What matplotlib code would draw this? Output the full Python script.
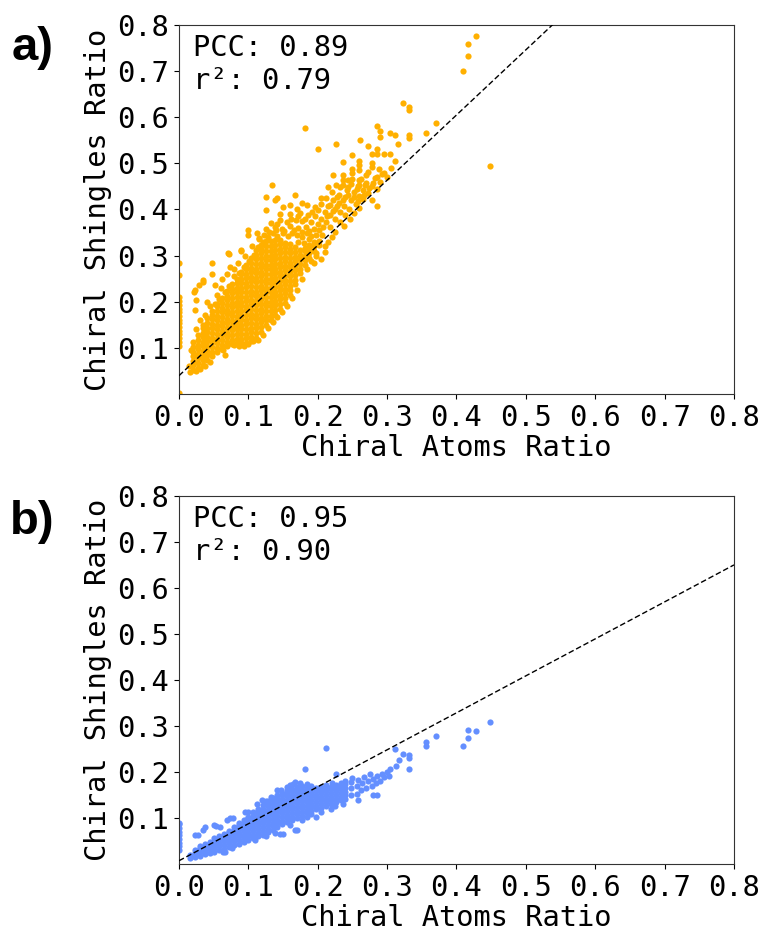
import matplotlib
matplotlib.use("Agg")
import matplotlib.pyplot as plt
import numpy as np

ORANGE = "#FFB000"
BLUE = "#648FFF"

# ---------------- panel a data (values in thousandths) ----------------
a_dense_x = [20, 27, 34, 41, 48, 55, 62, 69, 76, 83, 90, 97, 104, 111, 118,
             125, 132, 139, 146, 153, 160, 167, 174, 181, 188, 195, 202]
a_dense_y = [
    [52, 62, 72, 82, 92, 102, 112],
    [57, 67, 77, 87, 97, 107, 117, 127],
    [63, 73, 83, 93, 103, 113, 123, 133, 143, 150],
    [74, 84, 94, 104, 114, 124, 134, 144, 154, 164],
    [82, 92, 102, 112, 122, 132, 142, 152, 162, 172, 180],
    [90, 100, 110, 120, 130, 140, 150, 160, 170, 180, 190, 195],
    [97, 107, 117, 127, 137, 147, 157, 167, 177, 187, 197, 207],
    [103, 113, 123, 133, 143, 153, 163, 173, 183, 193, 203, 213, 223],
    [108, 118, 128, 138, 148, 158, 168, 178, 188, 198, 208, 218, 228, 238],
    [110, 120, 130, 140, 150, 160, 170, 180, 190, 200, 210, 220, 230, 240, 250],
    [110, 120, 130, 140, 150, 160, 170, 180, 190, 200, 210, 220, 230, 240, 250, 260, 265],
    [111, 121, 131, 141, 151, 161, 171, 181, 191, 201, 211, 221, 231, 241, 251, 261, 271, 280],
    [114, 124, 134, 144, 154, 164, 174, 184, 194, 204, 214, 224, 234, 244, 254, 264, 274, 284, 294],
    [122, 132, 142, 152, 162, 172, 182, 192, 202, 212, 222, 232, 242, 252, 262, 272, 282, 292, 302, 312],
    [135, 145, 155, 165, 175, 185, 195, 205, 215, 225, 235, 245, 255, 265, 275, 285, 295, 305, 315, 324],
    [150, 160, 170, 180, 190, 200, 210, 220, 230, 240, 250, 260, 270, 280, 290, 300, 310, 320, 331],
    [160, 170, 180, 190, 200, 210, 220, 230, 240, 250, 260, 270, 280, 290, 300, 310, 320, 332],
    [172, 182, 192, 202, 212, 222, 232, 242, 252, 262, 272, 282, 292, 302, 312, 322, 333],
    [185, 195, 205, 215, 225, 235, 245, 255, 265, 275, 285, 295, 305, 315, 325, 333],
    [198, 208, 218, 228, 238, 248, 258, 268, 278, 288, 298, 308, 318, 328],
    [215, 225, 235, 245, 255, 265, 275, 285, 295, 305, 315, 325],
    [238, 248, 258, 268, 278, 288, 298, 308, 318],
    [262, 272, 282, 292, 302, 312],
    [280, 290, 300, 310, 316],
    [295, 305, 315, 322],
    [310, 320, 330],
    [322, 332],
]
a_sparse = [
    (428, 777), (416, 759), (416, 732), (409, 700), (449, 494),
    (323, 631), (332, 623), (332, 615), (370, 588), (356, 565), (332, 561), (332, 554),
    (285, 582), (290, 570), (290, 557), (304, 566), (311, 562), (315, 543),
    (182, 576), (226, 541), (200, 532), (261, 550), (272, 537), (285, 532), (285, 521),
    (278, 520), (295, 520), (304, 520), (250, 519), (312, 505), (236, 503),
    (259, 506), (259, 496), (259, 485), (250, 487), (250, 478), (250, 467),
    (236, 474), (236, 463), (236, 452), (278, 500), (278, 491), (273, 481),
    (260, 463), (260, 452), (222, 474), (244, 463), (227, 452), (215, 449),
    (278, 421), (285, 408), (134, 452), (126, 426), (138, 421), (125, 398),
    (100, 356), (89, 312), (72, 303), (47, 283), (47, 260), (22, 221), (29, 236), (35, 243),
    (23, 182), (25, 203), (64, 95), (66, 84), (79, 106), (35, 247), (23, 225),
    (62, 250), (52, 236), (69, 261), (74, 276), (71, 305), (90, 311), (112, 348), (100, 345),
    (40, 200), (55, 215), (60, 230), (80, 270), (85, 285), (95, 300), (105, 320), (115, 335),
    (115, 338), (122, 345), (128, 340), (135, 350), (142, 343), (150, 348), (157, 342),
    (163, 350), (170, 345), (177, 340), (184, 348), (191, 342), (198, 345), (125, 358),
    (138, 362), (148, 358), (160, 365), (172, 360), (183, 362), (194, 358), (202, 355),
    (145, 377), (155, 373), (168, 378), (178, 375), (190, 372), (200, 368), (208, 362),
    (160, 390), (175, 392), (184, 409), (160, 409), (186, 388), (196, 385), (205, 380),
    (212, 372), (218, 362), (141, 424), (167, 431), (146, 390), (150, 405),
    (198, 305), (210, 308), (210, 320), (194, 283), (205, 292), (215, 330), (220, 340), (225, 352),
    (200, 398), (210, 395), (218, 388), (225, 380), (232, 372), (238, 365),
    (205, 412), (215, 408), (225, 402), (232, 395), (240, 388), (246, 380),
    (212, 425), (222, 420), (230, 415), (238, 408), (245, 400), (252, 392),
    (220, 438), (230, 432), (240, 428), (248, 420), (255, 412), (260, 404),
    (232, 448), (242, 442), (252, 438), (260, 430), (265, 422),
    (248, 455), (258, 450), (265, 442), (272, 435), (262, 465), (270, 458),
    (278, 450), (285, 445), (270, 475), (282, 468), (290, 460), (295, 480),
    (300, 470), (305, 490), (288, 488),
    (16, 48), (24, 50), (30, 54), (38, 60), (45, 70), (15, 60), (18, 95), (24, 140),
    (30, 160), (37, 172), (44, 190), (52, 195), (58, 205), (66, 220), (72, 235),
    (80, 255), (86, 262), (94, 275), (101, 288), (108, 302), (114, 318), (121, 330),
    (86, 104), (93, 104), (100, 108), (107, 115), (114, 118), (121, 128), (128, 142),
    (135, 155), (142, 166), (149, 178), (156, 190), (163, 208), (170, 225), (177, 250),
    (184, 270), (191, 288), (198, 300), (172, 330), (180, 328), (188, 335),
    (130, 352), (140, 356), (152, 354), (166, 356), (178, 352), (188, 354), (206, 345),
    (132, 370), (142, 368), (162, 380), (172, 385), (182, 380), (192, 395), (214, 385),
    (222, 396), (228, 408), (236, 420), (244, 432), (252, 428), (258, 418), (266, 432),
    (274, 446), (280, 458), (286, 470), (292, 476), (268, 452), (256, 445), (244, 448),
    (170, 400), (178, 415), (196, 405), (204, 425), (218, 410), (228, 426),
]
a_zero_y = [2, 105, 113, 121, 129, 137, 145, 153, 161, 169, 177, 185, 193, 201, 210, 258, 283]
a_pcc, a_r2 = 0.89, 0.79
a_intercept, a_slope = 0.0396, 1.413

# ---------------- panel b data (values in thousandths) ----------------
b_dense_x = [16, 23, 30, 37, 44, 51, 58, 65, 72, 79, 86, 93, 100, 107, 114, 121,
             128, 135, 142, 149, 156, 163, 170, 177, 184, 191, 198, 205, 212, 219,
             226, 233, 240]
b_dense_y = [
    [14, 20],
    [16, 24, 30],
    [18, 26, 34, 38],
    [21, 29, 37, 44],
    [24, 32, 40, 48],
    [27, 35, 43, 51, 56],
    [30, 38, 46, 54, 61],
    [33, 41, 49, 57, 65],
    [37, 45, 53, 61, 69, 72],
    [41, 49, 57, 65, 73, 80],
    [44, 52, 60, 68, 76, 84, 88],
    [48, 56, 64, 72, 80, 88, 96],
    [52, 60, 68, 76, 84, 92, 100, 103],
    [56, 64, 72, 80, 88, 96, 104, 112],
    [60, 68, 76, 84, 92, 100, 108, 116, 120],
    [64, 72, 80, 88, 96, 104, 112, 120, 128],
    [69, 77, 85, 93, 101, 109, 117, 125, 133, 136],
    [74, 82, 90, 98, 106, 114, 122, 130, 138, 143],
    [80, 88, 96, 104, 112, 120, 128, 136, 144, 150],
    [86, 94, 102, 110, 118, 126, 134, 142, 150, 155],
    [91, 99, 107, 115, 123, 131, 139, 147, 155, 160],
    [95, 103, 111, 119, 127, 135, 143, 151, 159, 164],
    [100, 108, 116, 124, 132, 140, 148, 156, 164, 167],
    [105, 113, 121, 129, 137, 145, 153, 161, 169],
    [110, 118, 126, 134, 142, 150, 158, 166],
    [115, 123, 131, 139, 147, 155, 162],
    [119, 127, 135, 143, 151, 158],
    [122, 130, 138, 146, 154, 160],
    [126, 134, 142, 150, 158, 164],
    [130, 138, 146, 154, 162, 168],
    [134, 142, 150, 158, 166, 172],
    [138, 146, 154, 162, 170, 176],
    [141, 149, 157, 165, 173, 180],
]
b_sparse = [
    (248, 150), (248, 165), (248, 178), (250, 186), (256, 152), (256, 170), (258, 183),
    (262, 160), (264, 175), (266, 190), (270, 165), (272, 180), (275, 195), (278, 170),
    (280, 185), (284, 175), (285, 192), (290, 180), (292, 196), (296, 188), (300, 200),
    (303, 192), (258, 140), (280, 149), (285, 149), (236, 131), (219, 120), (197, 103),
    (185, 103), (167, 74), (145, 66), (150, 66), (170, 74),
    (449, 308), (416, 292), (428, 289), (416, 274), (409, 256), (370, 279), (356, 266),
    (356, 257), (332, 236), (332, 231), (323, 238), (312, 250), (332, 206), (317, 225),
    (313, 212), (304, 207), (212, 252), (182, 206), (227, 196),
    (23, 63), (27, 63), (35, 73), (50, 84), (59, 81), (69, 96), (73, 99), (100, 113),
    (112, 131), (141, 160), (167, 178), (184, 174), (54, 82), (37, 81), (78, 100),
    (95, 114), (126, 137), (165, 174), (64, 27), (76, 34), (66, 27),
    (120, 138), (133, 146), (147, 160), (155, 168), (160, 172), (175, 176), (190, 170),
    (198, 166), (205, 168), (212, 172), (220, 176), (110, 52), (125, 60), (138, 68),
    (160, 84), (178, 96), (190, 108), (205, 114), (225, 126),
]
b_zero_y = [30, 38, 46, 54, 62, 70, 78, 86, 90]
b_pcc, b_r2 = 0.95, 0.90
b_intercept, b_slope = 0.007, 0.804

ticks = [0.0, 0.1, 0.2, 0.3, 0.4, 0.5, 0.6, 0.7, 0.8]
tick_labels = ["0.0", "0.1", "0.2", "0.3", "0.4", "0.5", "0.6", "0.7", "0.8"]
ytick_vals = ticks[1:]
ytick_labels = tick_labels[1:]


def gather(dense_x, dense_y, sparse, zero_y):
    xs, ys = [], []
    for cx, col in zip(dense_x, dense_y):
        for cy in col:
            xs.append(cx)
            ys.append(cy)
    for px, py in sparse:
        xs.append(px)
        ys.append(py)
    for zy in zero_y:
        xs.append(0)
        ys.append(zy)
    return np.array(xs) / 1000.0, np.array(ys) / 1000.0


MONO = "DejaVu Sans Mono"
FS = 20.7

fig = plt.figure(figsize=(7.61, 9.32), dpi=100)
ax_a = fig.add_axes([0.2352, 0.5773, 0.7293, 0.3959])
ax_b = fig.add_axes([0.2352, 0.0730, 0.7293, 0.3948])

panels = [
    (ax_a, gather(a_dense_x, a_dense_y, a_sparse, a_zero_y), ORANGE, a_pcc, a_r2, a_intercept, a_slope),
    (ax_b, gather(b_dense_x, b_dense_y, b_sparse, b_zero_y), BLUE, b_pcc, b_r2, b_intercept, b_slope),
]

for ax, (xs, ys), col, pcc, r2, b0, b1 in panels:
    ax.scatter(xs, ys, s=20, color=col, linewidths=0, zorder=2)
    lx = np.array([0.0, 0.8])
    ax.plot(lx, b0 + b1 * lx, color="black", linestyle="--", linewidth=1.0,
            dashes=(4, 2), zorder=3)
    ax.set_xlim(0, 0.8)
    ax.set_ylim(0, 0.8)
    ax.set_xticks(ticks)
    ax.set_xticklabels(tick_labels, fontfamily=MONO, fontsize=FS)
    ax.set_yticks(ytick_vals)
    ax.set_yticklabels(ytick_labels, fontfamily=MONO, fontsize=FS)
    ax.set_xlabel("Chiral Atoms Ratio", fontfamily=MONO, fontsize=FS, labelpad=2)
    ax.set_ylabel("Chiral Shingles Ratio", fontfamily=MONO, fontsize=FS, labelpad=4)
    ax.text(0.025, 0.975, f"PCC: {pcc:.2f}\nr²: {r2:.2f}", transform=ax.transAxes,
            ha="left", va="top", fontfamily=MONO, fontsize=FS)
    for sp in ax.spines.values():
        sp.set_color("#333333")

fig.text(0.043, 0.948, "a)", ha="center", va="center", fontsize=34,
         fontweight="bold", fontfamily="Liberation Sans")
fig.text(0.043, 0.440, "b)", ha="center", va="center", fontsize=34,
         fontweight="bold", fontfamily="Liberation Sans")

fig.savefig("out.png", dpi=100)
